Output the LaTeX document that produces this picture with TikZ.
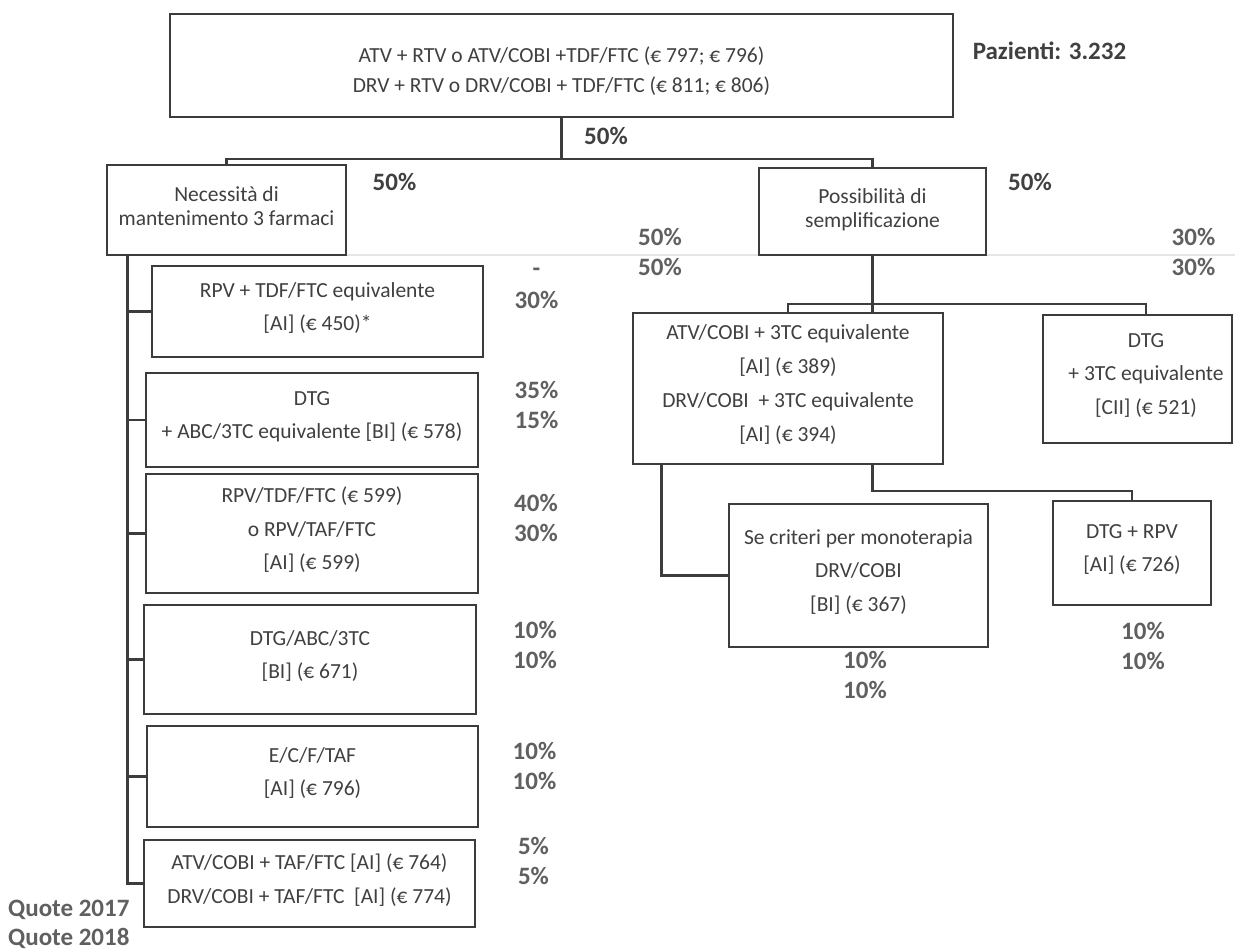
\documentclass[tikz,border=0pt]{standalone}
\usepackage{fontspec}
\setmainfont{Carlito}
\usetikzlibrary{calc}
\definecolor{linegray}{HTML}{3C3C3C}
\definecolor{txtgray}{HTML}{404040}
\definecolor{pctgray}{HTML}{606060}

\begin{document}
\begin{tikzpicture}[x=1pt,y=-1pt,
  box/.style={draw=linegray, line width=2.8pt, fill=white, rectangle,
    inner sep=0pt, align=center, text=txtgray,
    font=\fontsize{21.5}{33.5}\selectfont,
    execute at begin node=\strut, execute at end node=\strut},
  tightbox/.style={box, font=\fontsize{21.5}{24}\selectfont},
  frame/.style={draw=linegray, line width=2.8pt, fill=white, rectangle, inner sep=0pt},
  boxtxt/.style={inner sep=0pt, align=center, text=txtgray,
    execute at begin node=\strut, execute at end node=\strut},
  conn/.style={draw=linegray, line width=2.8pt, line join=miter},
  pct/.style={inner sep=0pt, align=center, text=pctgray,
    font=\fontsize{25}{30}\selectfont\bfseries,
    execute at begin node=\strut, execute at end node=\strut},
  pctdark/.style={pct, text=txtgray},
]
\useasboundingbox (0,0) rectangle (1235,949);
\fill[white] (0,0) rectangle (1235,949);
% faint horizontal rule across the page
\draw[black!10, line width=1.5pt] (346,255) -- (1235,255);

% ---------- root ----------
\node[frame, minimum width=783pt, minimum height=103pt] (top) at (561.5,65.5) {};
\node[boxtxt, font=\fontsize{21.5}{30}\selectfont] (toptxt) at (561.5,74)
  {ATV + RTV o ATV/COBI +TDF/FTC (€ 797; € 796)\\DRV + RTV o DRV/COBI + TDF/FTC (€ 811; € 806)};
\node[pctdark, anchor=center] (paz) at (1049.5,54) {Pazienti: 3.232};

% ---------- first split ----------
\node[tightbox, minimum width=239pt, minimum height=90pt] (nec) at (226.5,210)
  {Necessità di\\mantenimento 3 farmaci};
\node[tightbox, minimum width=227pt, minimum height=87pt] (pos) at (872.5,211.5)
  {Possibilità di\\semplificazione};

% ---------- three-drug branch ----------
\node[box, minimum width=331pt, minimum height=91pt] (b1) at (317.5,311.5)
  {RPV + TDF/FTC equivalente\\{}[AI] (€ 450)*};
\node[box, minimum width=332pt, minimum height=94pt] (b2) at (312,420)
  {DTG\\+ ABC/3TC equivalente [BI] (€ 578)};
\node[box, minimum width=332pt, minimum height=119pt] (b3) at (312,533.5)
  {RPV/TDF/FTC (€ 599)\\o RPV/TAF/FTC\\{}[AI] (€ 599)};
\node[box, minimum width=332pt, minimum height=109pt] (b4) at (310,659.5)
  {DTG/ABC/3TC\\{}[BI] (€ 671)};
\node[box, minimum width=331pt, minimum height=101pt] (b5) at (312.5,776.5)
  {E/C/F/TAF\\{}[AI] (€ 796)};
\node[box, minimum width=331pt, minimum height=87pt] (b6) at (309.5,883.5)
  {ATV/COBI + TAF/FTC [AI] (€ 764)\\DRV/COBI + TAF/FTC \ [AI] (€ 774)};

% ---------- simplification branch ----------
\node[box, minimum width=310pt, minimum height=151pt, font=\fontsize{21.5}{34}\selectfont] (atv) at (788,388.5)
  {ATV/COBI + 3TC equivalente\\{}[AI] (€ 389)\\DRV/COBI \ + 3TC equivalente\\{}[AI] (€ 394)};
\node[frame, minimum width=189pt, minimum height=128pt] (dtg) at (1137.5,379) {};
\node[boxtxt, font=\fontsize{21.5}{33.5}\selectfont] (dtgtxt) at (1146,379)
  {DTG\\+ 3TC equivalente\\{}[CII] (€ 521)};
\node[box, minimum width=259pt, minimum height=143pt] (se) at (858.5,575.5)
  {Se criteri per monoterapia\\DRV/COBI\\{}[BI] (€ 367)};
\node[box, minimum width=158pt, minimum height=104pt] (rpv) at (1132,553)
  {DTG + RPV\\{}[AI] (€ 726)};

% ---------- connectors ----------
\coordinate (busA) at (561.5,159);
\draw[conn] (top.south) -- (busA);
\draw[conn] (nec.north) |- (busA) -| (pos.north);

\coordinate (spine) at ($(nec.south west)+(22,0)$);
\draw[conn] (spine) |- (b6.west);
\foreach \b in {b1,b2,b3,b4,b5}
  \draw[conn] (\b.west) -- (\b.west -| spine);

\coordinate (busB) at (872.5,304);
\draw[conn] (pos.south) -- (pos.south |- atv.north);
\draw[conn] (atv.north) |- (busB) -| (dtg.north -| dtgtxt);

\coordinate (atvL) at ($(atv.south west)+(30,0)$);
\draw[conn] (atvL) |- (se.west);
\coordinate (busC) at (872.5,491);
\draw[conn] (busC |- atv.south) -- (busC) -| (rpv.north);

% ---------- shares ----------
\node[pctdark] (s0) at (606,139) {50\%};
\node[pctdark] (s1) at (394.5,185) {50\%};
\node[pctdark] (s2) at (1030,185) {50\%};
\node[pct] (s3) at (660,256) {50\%\\50\%};
\node[pct] (s4) at (1193.5,256.5) {30\%\\30\%};
\node[pct, font=\fontsize{25}{32}\selectfont\bfseries] (s5) at (536.5,293) {-\\30\%};
\node[pct] (s6) at (536.5,409) {35\%\\15\%};
\node[pct] (s7) at (536,522) {40\%\\30\%};
\node[pct] (s8) at (535,649) {10\%\\10\%};
\node[pct] (s9) at (534.5,770) {10\%\\10\%};
\node[pct] (s10) at (533.5,865) {5\%\\5\%};
\node[pct] (s11) at (865,679) {10\%\\10\%};
\node[pct] (s12) at (1143,650) {10\%\\10\%};
\node[pct, align=left, anchor=west, font=\fontsize{25}{29}\selectfont\bfseries] (quote) at (8,926.7)
  {Quote 2017\\Quote 2018};
\end{tikzpicture}
\end{document}
